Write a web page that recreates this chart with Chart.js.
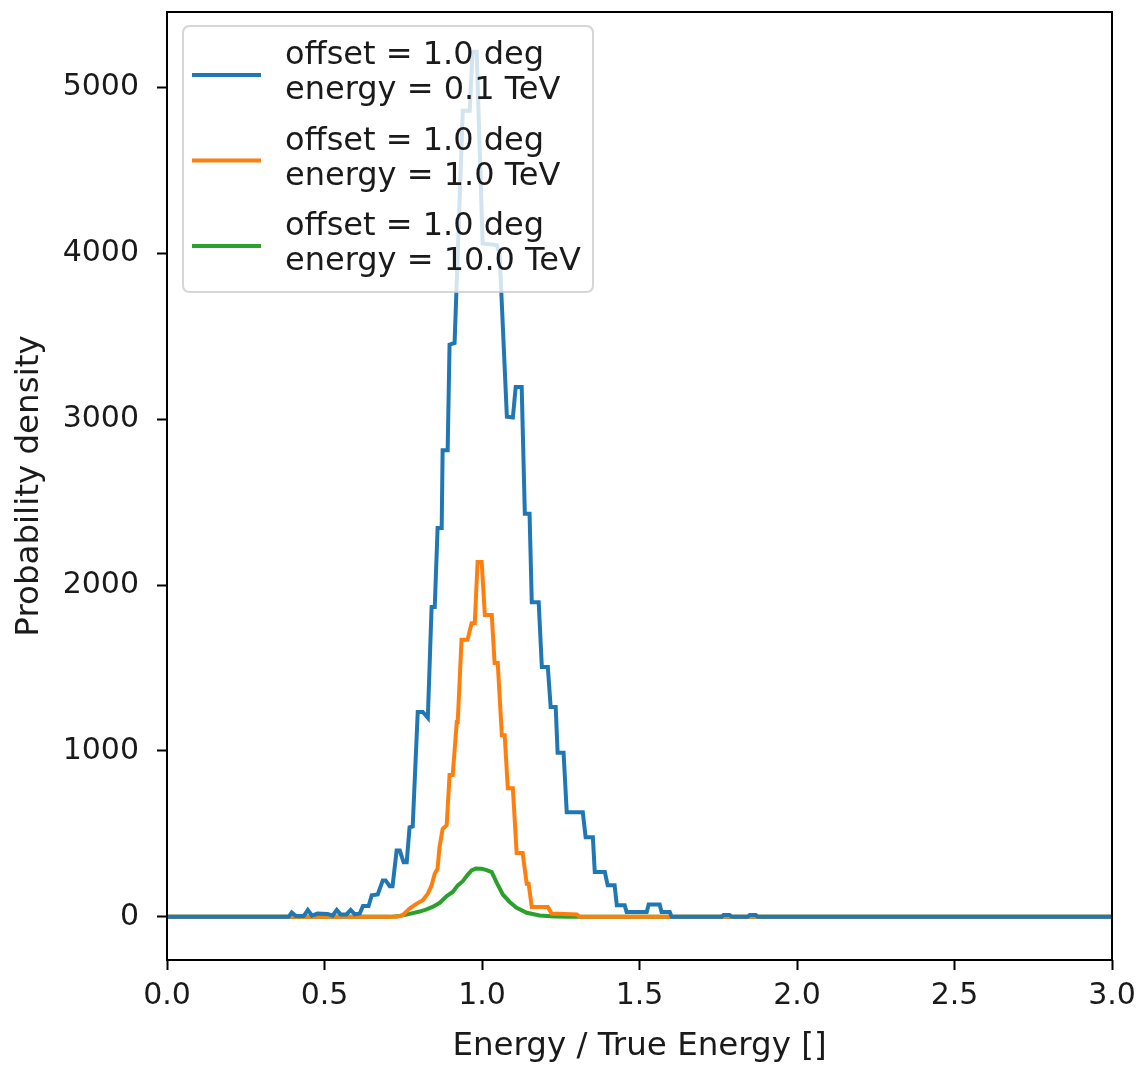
<!DOCTYPE html>
<html>
<head>
<meta charset="utf-8">
<script src="https://cdn.jsdelivr.net/npm/chart.js@4/dist/chart.umd.min.js"></script>
<style>
  html, body { margin: 0; padding: 0; background: #ffffff; }
  canvas { display: block; }
</style>
</head>
<body>
<canvas id="c" width="1145" height="1066"></canvas>
<script>
// ---- data (x = Energy / True Energy, y = probability density) ----
const seriesLabels = [
  ["offset = 1.0 deg", "energy = 0.1 TeV"],
  ["offset = 1.0 deg", "energy = 1.0 TeV"],
  ["offset = 1.0 deg", "energy = 10.0 TeV"]
];
const seriesColors = ["#1f77b4", "#ff7f0e", "#2ca02c"];

const blueX = [0.000, 0.386, 0.396, 0.409, 0.434, 0.447, 0.460, 0.478, 0.510, 0.526, 0.539, 0.551, 0.570, 0.583, 0.596, 0.612,
  0.622, 0.640, 0.650, 0.669, 0.685, 0.694, 0.707, 0.716, 0.729, 0.739, 0.751, 0.761, 0.770, 0.780, 0.796, 0.812, 0.828,
  0.840, 0.850, 0.859, 0.872, 0.875, 0.891, 0.897, 0.913, 0.939, 0.961, 0.970, 0.983, 1.002, 1.047, 1.056, 1.079, 1.098,
  1.107, 1.126, 1.136, 1.151, 1.158, 1.180, 1.190, 1.209, 1.218, 1.234, 1.240, 1.259, 1.269, 1.320, 1.329, 1.352, 1.358,
  1.390, 1.399, 1.421, 1.428, 1.453, 1.459, 1.523, 1.529, 1.564, 1.570, 1.596, 1.602, 1.761, 1.767, 1.786, 1.793, 1.843,
  1.850, 1.869, 1.875, 3.000];
const blueY = [0, 0, 27, 5, 5, 42, 8, 20, 18, 8, 42, 15, 15, 42, 15, 20,
  65, 65, 130, 135, 220, 220, 185, 185, 400, 400, 330, 330, 540, 545, 1235, 1235, 1200,
  1868, 1868, 2345, 2345, 2813, 2813, 3450, 3460, 4860, 4860, 5216, 5216, 4060, 4050, 3990, 3015, 3010,
  3195, 3195, 2430, 2430, 1897, 1897, 1506, 1506, 1265, 1265, 990, 990, 630, 630, 480, 480, 270,
  270, 190, 190, 70, 70, 30, 30, 75, 75, 30, 30, 0, 0, 12, 12, 0, 0,
  12, 12, 0, 0];

const orangeX = [0.000, 0.729, 0.748, 0.770, 0.793, 0.812, 0.828, 0.840, 0.850, 0.859, 0.865, 0.875, 0.888, 0.897, 0.907,
  0.920, 0.923, 0.935, 0.954, 0.967, 0.977, 0.986, 0.999, 1.009, 1.031, 1.040, 1.050, 1.063, 1.072, 1.082, 1.098,
  1.110, 1.129, 1.142, 1.148, 1.158, 1.209, 1.221, 1.301, 1.310, 3.000];
const orangeY = [0, 0, 10, 50, 80, 100, 140, 190, 260, 290, 420, 530, 553, 855, 855,
  1175, 1175, 1670, 1670, 1770, 1770, 2140, 2140, 1820, 1820, 1530, 1530, 1095, 1095, 775, 775,
  385, 385, 200, 200, 60, 60, 20, 15, 0, 0];

const greenX = [0.000, 0.707, 0.739, 0.770, 0.802, 0.824, 0.843, 0.866, 0.888, 0.907, 0.923, 0.939, 0.955, 0.967, 0.980,
  0.999, 1.015, 1.031, 1.047, 1.066, 1.088, 1.110, 1.142, 1.183, 1.231, 1.279, 3.000];
const greenY = [0, 0, 5, 18, 32, 45, 60, 85, 125, 150, 190, 215, 255, 280, 292,
  290, 282, 270, 205, 135, 90, 55, 25, 8, 2, 0, 0];

const xTicks = [0.0, 0.5, 1.0, 1.5, 2.0, 2.5, 3.0];
const yTicks = [0, 1000, 2000, 3000, 4000, 5000];
const xRange = [0, 3];
const yRange = [-260, 5455];
const xTitle = "Energy / True Energy []";
const yTitle = "Probability density";

// ---- chart ----
const FONT = "'DejaVu Sans', 'Liberation Sans', sans-serif";
const FS = 30;      // tick labels
const FS_T = 32.5;  // axis titles
const FS_L = 32;    // legend
const TXT = "#1a1a1a";

function pts(xs, ys) { return xs.map((x, i) => ({ x: x, y: ys[i] })); }

const seriesX = [blueX, orangeX, greenX];
const seriesY = [blueY, orangeY, greenY];
const datasets = seriesLabels.map((lab, i) => ({
  label: lab,
  data: pts(seriesX[i], seriesY[i]),
  borderColor: seriesColors[i],
  backgroundColor: seriesColors[i],
  borderWidth: 4,
  pointRadius: 0,
  tension: 0,
  fill: false
}));

const frameLegendPlugin = {
  id: 'frameLegend',
  afterDatasetsDraw(chart) {
    const ctx = chart.ctx;
    const a = chart.chartArea;
    ctx.save();
    // legend box (semi-transparent, like matplotlib)
    const bx = a.left + 16, by = a.top + 14, bw = 410, bh = 266, r = 7;
    ctx.beginPath();
    ctx.moveTo(bx + r, by);
    ctx.lineTo(bx + bw - r, by);
    ctx.quadraticCurveTo(bx + bw, by, bx + bw, by + r);
    ctx.lineTo(bx + bw, by + bh - r);
    ctx.quadraticCurveTo(bx + bw, by + bh, bx + bw - r, by + bh);
    ctx.lineTo(bx + r, by + bh);
    ctx.quadraticCurveTo(bx, by + bh, bx, by + bh - r);
    ctx.lineTo(bx, by + r);
    ctx.quadraticCurveTo(bx, by, bx + r, by);
    ctx.closePath();
    ctx.fillStyle = 'rgba(255,255,255,0.8)';
    ctx.fill();
    ctx.lineWidth = 2;
    ctx.strokeStyle = 'rgba(204,204,204,0.8)';
    ctx.stroke();

    ctx.font = FS_L + 'px ' + FONT;
    ctx.textBaseline = 'middle';
    ctx.textAlign = 'left';
    chart.data.datasets.forEach((ds, i) => {
      const hy = by + 49 + i * 85.5;
      ctx.beginPath();
      ctx.moveTo(bx + 9, hy);
      ctx.lineTo(bx + 78, hy);
      ctx.lineWidth = 4;
      ctx.strokeStyle = ds.borderColor;
      ctx.stroke();
      ctx.fillStyle = TXT;
      ctx.fillText(ds.label[0], bx + 102, hy - 19);
      ctx.fillText(ds.label[1], bx + 102, hy + 16);
    });

    // spines
    ctx.lineWidth = 2;
    ctx.strokeStyle = '#000';
    ctx.strokeRect(a.left, a.top, a.right - a.left, a.bottom - a.top);
    ctx.restore();
  }
};

new Chart(document.getElementById('c'), {
  type: 'line',
  data: { datasets: datasets },
  options: {
    responsive: false,
    animation: false,
    devicePixelRatio: 1,
    layout: { padding: { left: 0, top: 12, right: 33, bottom: 0 } },
    plugins: { legend: { display: false }, tooltip: { enabled: false } },
    scales: {
      x: {
        type: 'linear',
        min: xRange[0], max: xRange[1],
        afterBuildTicks: s => { s.ticks = xTicks.map(v => ({ value: v })); },
        afterFit: s => { s.height = 106; s.paddingLeft = 0; s.paddingRight = 0; },
        ticks: {
          font: { family: FONT, size: FS }, color: TXT, padding: 8,
          maxRotation: 0, autoSkip: false,
          callback: v => Number(v).toFixed(1)
        },
        grid: { drawOnChartArea: false, drawTicks: true, tickLength: 10, tickWidth: 2, tickColor: '#000' },
        border: { display: false },
        title: { display: true, text: xTitle, font: { family: FONT, size: FS_T }, color: TXT, padding: { top: 0, bottom: 0 } }
      },
      y: {
        type: 'linear',
        min: yRange[0], max: yRange[1],
        afterBuildTicks: s => { s.ticks = yTicks.map(v => ({ value: v })); },
        afterFit: s => { s.width = 167; s.paddingTop = 0; s.paddingBottom = 0; },
        ticks: {
          font: { family: FONT, size: FS }, color: TXT, padding: 18,
          autoSkip: false,
          callback: v => String(v)
        },
        grid: { drawOnChartArea: false, drawTicks: true, tickLength: 10, tickWidth: 2, tickColor: '#000' },
        border: { display: false },
        title: { display: true, text: yTitle, font: { family: FONT, size: FS_T }, color: TXT, padding: { top: 10, bottom: 0 } }
      }
    }
  },
  plugins: [frameLegendPlugin]
});
</script>
</body>
</html>
